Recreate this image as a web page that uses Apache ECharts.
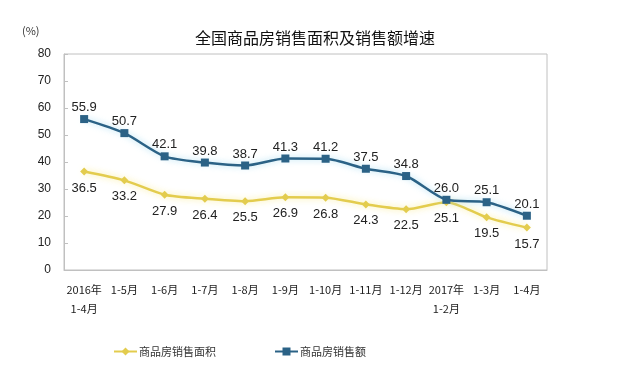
<!DOCTYPE html>
<html><head><meta charset="utf-8">
<script src="https://cdn.jsdelivr.net/npm/echarts@6/dist/echarts.min.js"></script>
<style>html,body{margin:0;padding:0;background:#fff}#c{width:624px;height:376px}</style>
</head><body><div id="c"></div>
<script>
const categories = ['2016年\n1-4月','1-5月','1-6月','1-7月','1-8月','1-9月','1-10月','1-11月','1-12月','2017年\n1-2月','1-3月','1-4月'];
const areaGrowth = [36.5, 33.2, 27.9, 26.4, 25.5, 26.9, 26.8, 24.3, 22.5, 25.1, 19.5, 15.7];
const salesGrowth = [55.9, 50.7, 42.1, 39.8, 38.7, 41.3, 41.2, 37.5, 34.8, 26.0, 25.1, 20.1];
const yTicks = {min: 0, max: 80, interval: 10};
const seriesNames = ['商品房销售面积', '商品房销售额'];

const chart = echarts.init(document.getElementById('c'));
const lbl = {show: true, fontSize: 13, color: '#222', fontFamily: 'Arial, "Liberation Sans", sans-serif',
  formatter: p => p.value.toFixed(1)};
chart.setOption({
  animation: false,
  backgroundColor: '#fff',
  title: {text: '全国商品房销售面积及销售额增速', left: 310, textAlign: 'center', top: 25,
    textStyle: {fontSize: 16, fontWeight: 'normal', color: '#111', fontFamily: '"Noto Sans CJK SC", sans-serif'}},
  graphic: [{type: 'text', left: 22, top: 25, style: {text: '(%)', fontSize: 11, fill: '#333', fontFamily: '"Noto Sans CJK SC", sans-serif'}}],
  grid: {left: 64, right: 77, top: 54, bottom: 106, show: true, borderColor: '#c0c0c0', borderWidth: 1},
  legend: {left: 108, top: 341, itemGap: 58, itemWidth: 23, itemHeight: 10,
    textStyle: {fontSize: 11, color: '#333', padding: [0, 0, 0, -3], fontFamily: '"Noto Sans CJK SC", sans-serif'},
    data: seriesNames},
  xAxis: {type: 'category', data: categories, boundaryGap: true,
    axisLine: {lineStyle: {color: '#c0c0c0'}},
    axisTick: {inside: true, length: 4, lineStyle: {color: '#c0c0c0'}},
    axisLabel: {fontSize: 11, color: '#222', margin: 10, lineHeight: 19, interval: 0,
      fontFamily: '"Noto Sans CJK SC", sans-serif'}},
  yAxis: {type: 'value', min: yTicks.min, max: yTicks.max, interval: yTicks.interval,
    axisLine: {show: true, lineStyle: {color: '#c0c0c0'}},
    axisTick: {show: true, inside: true, length: 4, lineStyle: {color: '#c0c0c0'}},
    splitLine: {show: false},
    axisLabel: {fontSize: 12, color: '#222', margin: 13, fontFamily: 'Arial, sans-serif'}},
  series: [
    {name: seriesNames[0], type: 'line', data: areaGrowth, symbol: 'diamond', symbolSize: 8, smooth: 0.25,
      color: '#E3CC4E',
      lineStyle: {width: 2.5, color: '#E3CC4E', shadowColor: 'rgba(250,235,140,0.9)', shadowBlur: 6},
      itemStyle: {color: '#E3CC4E'},
      label: Object.assign({position: 'bottom', distance: 6}, lbl)},
    {name: seriesNames[1], type: 'line', data: salesGrowth, symbol: 'rect', symbolSize: 8, smooth: 0.25,
      color: '#2B6286',
      lineStyle: {width: 2.5, color: '#2B6286', shadowColor: 'rgba(150,215,240,0.8)', shadowBlur: 6},
      itemStyle: {color: '#2B6286'},
      label: Object.assign({position: 'top', distance: 1}, lbl)}
  ]
});
</script></body></html>
